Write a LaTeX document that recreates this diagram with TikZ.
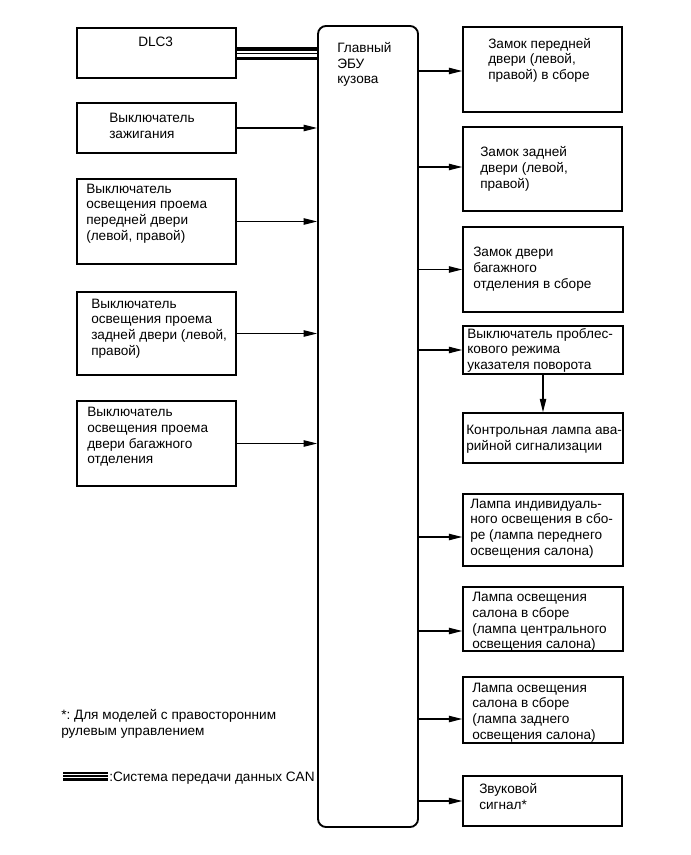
\documentclass[tikz,border=0pt]{standalone}
\usepackage{fontspec}
\setmainfont{Liberation Sans}
\usetikzlibrary{arrows.meta,fit}
\frenchspacing
\begin{document}
\begin{tikzpicture}[x=0.75pt,y=-0.75pt,
  box/.style={draw, line width=1.2pt, inner sep=0pt},
  ecubox/.style={draw, line width=1.4pt, inner sep=0pt, rounded corners=6pt},
  txt/.style={anchor=base west, inner sep=0pt, align=left, font=\fontsize{10.2pt}{11.8pt}\selectfont\frenchspacing},
  arr/.style={line width=0.8pt, -{Triangle[length=10pt,width=4.8pt]}},
  canthick/.style={line width=2.3pt},
  canthin/.style={line width=0.8pt}]
\useasboundingbox (0,0) rectangle (691,855);

% main ECU
\node[ecubox, fit={(318,26) (418,827)}] (ecu) {};
\node[txt] (ecu-t) at (337,84) {Главный\\ЭБУ\\кузова};

% left boxes
\node[box, fit={(77,28) (236,78)}] (dlc) {};
\node[txt] (dlc-t) at (138,47) {DLC3};
\node[box, fit={(77,103) (236,153)}] (ign) {};
\node[txt] (ign-t) at (109,138.2) {Выключатель\\зажигания};
\node[box, fit={(77,179) (236,264)}] (fd) {};
\node[txt] (fd-t) at (86,240.4) {Выключатель\\освещения проема\\передней двери\\(левой, правой)};
\node[box, fit={(77,292) (236,375)}] (rd) {};
\node[txt] (rd-t) at (91,355.4) {Выключатель\\освещения проема\\задней двери (левой,\\правой)};
\node[box, fit={(77,401) (236,486)}] (lg) {};
\node[txt] (lg-t) at (87,463.8) {Выключатель\\освещения проема\\двери багажного\\отделения};

% right boxes
\node[box, fit={(463,27) (622,112)}] (r1) {};
\node[txt] (r1-t) at (488,79.7) {Замок передней\\двери (левой,\\правой) в сборе};
\node[box, fit={(463,127) (622,211)}] (r2) {};
\node[txt] (r2-t) at (480,188.1) {Замок задней\\двери (левой,\\правой)};
\node[box, fit={(463,227) (623,312)}] (r3) {};
\node[txt] (r3-t) at (473,288.1) {Замок двери\\багажного\\отделения в сборе};
\node[box, fit={(463,326) (623,374)}] (r4) {};
\node[txt] (r4-t) at (467,369.7) {Выключатель проблес-\\кового режима\\указателя поворота};
\node[box, fit={(463,413) (623,463)}] (r5) {};
\node[txt] (r5-t) at (466,450.7) {Контрольная лампа ава-\\рийной сигнализации};
\node[box, fit={(463,494) (623,566)}] (r6) {};
\node[txt] (r6-t) at (470,555.4) {Лампа индивидуаль-\\ного освещения в сбо-\\ре (лампа переднего\\освещения салона)};
\node[box, fit={(463,587) (623,651)}] (r7) {};
\node[txt] (r7-t) at (472,648.8) {Лампа освещения\\салона в сборе\\(лампа центрального\\освещения салона)};
\node[box, fit={(463,677) (623,743)}] (r8) {};
\node[txt] (r8-t) at (472,739.4) {Лампа освещения\\салона в сборе\\(лампа заднего\\освещения салона)};
\node[box, fit={(463,776) (622,826)}] (r9) {};
\node[txt] (r9-t) at (479,809) {Звуковой\\сигнал*};

% CAN link
\coordinate (c1) at (0,49);
\coordinate (c2) at (0,53.5);
\coordinate (c3) at (0,58.7);
\draw[canthick] (dlc.east |- c1) -- (ecu.west |- c1);
\draw[canthin] (dlc.east |- c2) -- (ecu.west |- c2);
\draw[canthick] (dlc.east |- c3) -- (ecu.west |- c3);

% inputs
\draw[arr] (ign.east) -- (ign.east -| ecu.west);
\draw[arr] (fd.east) -- (fd.east -| ecu.west);
\draw[arr] (rd.east) -- (rd.east -| ecu.west);
\draw[arr] (lg.east) -- (lg.east -| ecu.west);

% outputs
\coordinate (a1) at (0,71);
\coordinate (a2) at (0,167);
\coordinate (a6) at (0,537);
\coordinate (a7) at (0,631);
\coordinate (a8) at (0,719);
\draw[arr] (ecu.east |- a1) -- (r1.west |- a1);
\draw[arr] (ecu.east |- a2) -- (r2.west |- a2);
\draw[arr] (ecu.east |- r3.west) -- (r3.west);
\draw[arr] (ecu.east |- r4.west) -- (r4.west);
\draw[arr] (ecu.east |- a6) -- (r6.west |- a6);
\draw[arr] (ecu.east |- a7) -- (r7.west |- a7);
\draw[arr] (ecu.east |- a8) -- (r8.west |- a8);
\draw[arr] (ecu.east |- r9.west) -- (r9.west);
\coordinate (v) at (543,0);
\draw[arr] (r4.south -| v) -- (r5.north -| v);

% notes
\node[txt] (note) at (61,735.5) {*: Для моделей с правосторонним\\рулевым управлением};
\draw[line width=1pt] (63,773) -- (108,773);
\draw[line width=0.8pt] (63,776) -- (108,776);
\draw[line width=2pt] (63,779.5) -- (108,779.5);
\node[txt] (leg) at (109,781) {:Система передачи данных CAN};
\end{tikzpicture}
\end{document}
